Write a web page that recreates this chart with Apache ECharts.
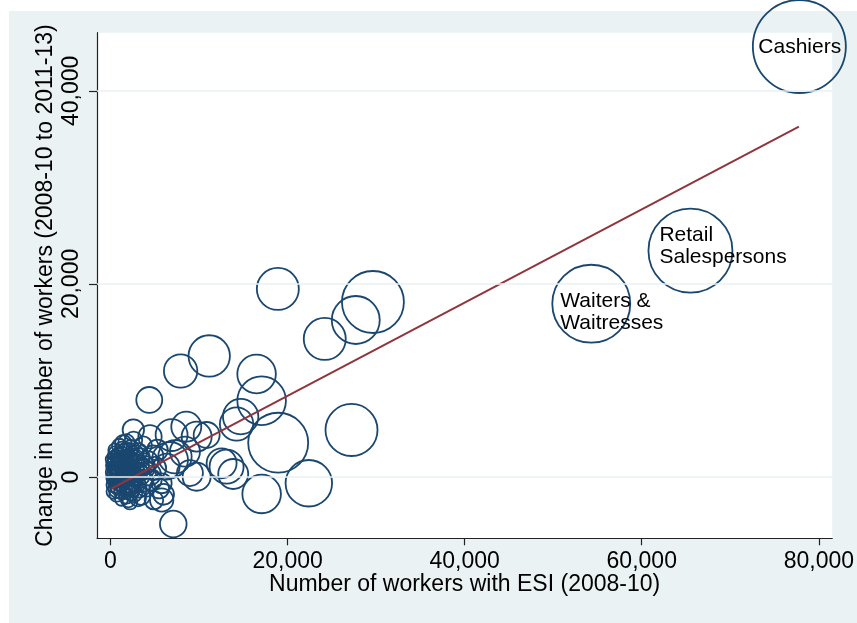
<!DOCTYPE html>
<html>
<head>
<meta charset="utf-8">
<script src="https://cdn.jsdelivr.net/npm/echarts@6/dist/echarts.min.js"></script>
<style>
  html, body { margin: 0; padding: 0; background: #ffffff; }
  #chart { width: 857px; height: 623px; }
</style>
</head>
<body>
<div id="chart"></div>
<script>
// Occupations: workers with ESI in 2008-10 (x), change in workers 2008-10 to 2011-13 (y),
// and bubble weight (thousands of workers).
const namedOcc   = ['Cashiers', 'Retail\nSalespersons', 'Waiters &\nWaitresses'];
const namedX     = [77800, 65500, 54300];
const namedY     = [44600, 23450, 17950];
const namedW     = [100, 81.6, 70.3];

const occX = [
  18900, 29640, 27700, 24200, 11150, 7920, 16500, 4380, 17070, 18940,
  27220, 22400, 17070, 14700, 14240, 13860, 13110, 7090, 8560, 6900,
  9730, 10860, 12550, 9730, 6720, 5780, 2580, 4460, 1445, 2010,
  5780, 6340, 7280, 8410, 8970,
  300, 450, 600, 700, 800, 900, 1000, 1100, 1200, 1300,
  1400, 1500, 1600, 1700, 1800, 1900, 2000, 2100, 2200, 2300,
  2400, 2500, 2600, 2700, 2800, 2900, 3000, 3200, 3300, 3400,
  3600, 3700, 3800, 4000, 4200, 4400, 4600, 5000, 5300, 5500,
  500, 700, 350, 1000, 1250, 1800, 2200, 2600, 3100, 900,
  1500, 2000, 600, 1100, 1700, 2500, 3500, 4800, 6000, 4900,
  250, 400, 550, 650, 750, 850, 950, 1050, 1150, 1350,
  1450, 1650, 1750, 1950, 2050, 2150, 2350, 2450, 2750, 3050,
  200, 380, 520, 820, 980, 1180, 1380, 1580, 1780, 2280,
  320, 480, 720, 880, 1320, 1620, 2120, 2680, 3150, 3900
];
const occY = [
  19480, 18130, 16265, 14300, 12540, 10980, 10670, 7980, 7900, 3550,
  4870, -650, -1760, 6250, 5490, 310, 1070, -4870, 5215, 4350,
  4180, 4350, 1420, 30, 1760, -2380, 4870, 4175, 3490, -2380,
  -650, 1070, 2100, 2620, 410,
  500, -800, 1500, 200, -1200, 2200, 900, -300, 1800, -1500,
  600, 2600, -600, 1200, -2000, 300, 2000, -1000, 900, 3000,
  -200, 1500, -1700, 500, 2500, -700, 1100, -1300, 200, 2000,
  -400, 3300, 800, -1100, 1600, 300, -300, 900, 2800, -1200,
  2800, -1800, 1000, 3200, -2300, 3600, -2600, 3800, -2200, 100,
  -200, 700, -300, 1500, 2800, -1200, -2000, 2200, -1800, -2400,
  0, 1200, -400, 2400, 700, -1100, 1700, 300, -700, 1000,
  2100, -300, 600, -1400, 1600, 2700, 400, -900, 1900, 500,
  1800, -1500, 300, 1300, -600, 2300, -200, 800, 100, -1600,
  -300, 2000, 1100, -900, 2900, 1900, 1300, 100, 2600, 1200
];
const occW = [
  20.4, 44.4, 26.6, 20.4, 19.8, 12.9, 17.2, 7.8, 27.3, 41.6,
  31.3, 25, 17.2, 14.5, 12.9, 10.4, 13.4, 8.2, 10.4, 11.8,
  10.4, 7.8, 10.4, 9.1, 15, 6.3, 5.3, 6.3, 3.2, 2.5,
  4.6, 7.8, 12.9, 10.4, 7.8,
  2.5, 3, 3.5, 2, 4, 3, 5, 2.5, 4, 3,
  6, 3, 4.5, 3, 2.5, 5.5, 3.5, 4, 2.5, 3,
  6, 4, 3.5, 5, 3, 4, 6.5, 3, 5, 4,
  5.5, 3.5, 4.5, 4, 5, 6, 5, 6, 5, 4.5,
  2, 2.5, 2, 2.5, 2, 3, 2.5, 3.5, 3, 3,
  3.5, 4, 2, 3, 2.5, 3, 3.5, 5, 5, 4,
  2, 3, 2.5, 3, 3.5, 2.5, 3, 4, 3, 3.5,
  4, 3, 2.5, 3, 4.5, 3, 4, 3.5, 4, 4.5,
  2, 2.5, 3, 2.5, 3, 3.5, 2.5, 3, 3.5, 3,
  2, 2.5, 3, 3.5, 2.5, 3, 3.5, 4, 3.5, 4
];

// Linear fit drawn between the smallest and largest x
const fitX = [100, 77750];
const fitY = [-1200, 36290];

const xTicks = [0, 20000, 40000, 60000, 80000];
const yTicks = [0, 20000, 40000];

const navy = '#1A476F';
const maroon = '#90353B';
const bg = '#EAF2F3';
const font = '"Liberation Sans", Arial, Helvetica, sans-serif';
const fmt = v => v.toLocaleString('en-US');
const bubble = w => 9.3 * Math.sqrt(w);

// Label placement for the named occupations (pixel offsets from bubble centre)
const labelOffset = {
  'Cashiers': [-41, 1],
  'Retail\nSalespersons': [-31, -4],
  'Waiters &\nWaitresses': [-31, 8]
};

const pts = occX.map((x, i) => [x, occY[i], occW[i]]);
const named = namedOcc.map((n, i) => ({
  name: n,
  value: [namedX[i], namedY[i], namedW[i]],
  label: {
    show: true, position: 'inside', align: 'left', offset: labelOffset[n],
    formatter: n, color: '#000', fontFamily: font, fontSize: 21, lineHeight: 22
  }
}));

const chart = echarts.init(document.getElementById('chart'), null, { renderer: 'canvas' });
chart.setOption({
  backgroundColor: '#ffffff',
  animation: false,
  // light outer panel behind the plot region
  graphic: [{
    type: 'rect', z: -100, silent: true,
    shape: { x: 9, y: 11, width: 848, height: 612 },
    style: { fill: bg }
  }],
  grid: {
    left: 97, top: 32.7, right: 24.3, bottom: 84.7,
    show: true, backgroundColor: '#ffffff', borderWidth: 0
  },
  xAxis: {
    type: 'value', min: -1524, max: 81515,
    name: 'Number of workers with ESI (2008-10)',
    nameLocation: 'middle', nameGap: 35, nameMoveOverlap: false,
    nameTextStyle: { fontFamily: font, fontSize: 23, color: '#000' },
    axisLine: { show: true, onZero: false, lineStyle: { color: '#222', width: 1.2 } },
    axisTick: { show: true, customValues: xTicks, length: 7, lineStyle: { color: '#222', width: 1.2 } },
    axisLabel: { customValues: xTicks, formatter: fmt, margin: 12, fontFamily: font, fontSize: 23, color: '#000' },
    splitLine: { show: false }
  },
  yAxis: {
    type: 'value', min: -6351, max: 46029,
    name: 'Change in number of workers (2008-10 to 2011-13)',
    nameLocation: 'middle', nameGap: 40, nameRotate: 90, nameMoveOverlap: false,
    nameTextStyle: { fontFamily: font, fontSize: 23, color: '#000' },
    axisLine: { show: true, onZero: false, lineStyle: { color: '#222', width: 1.2 } },
    axisTick: { show: true, customValues: yTicks, length: 8, lineStyle: { color: '#222', width: 1.2 } },
    axisLabel: { customValues: yTicks, formatter: fmt, rotate: 90, margin: 14, fontFamily: font, fontSize: 23, color: '#000' },
    splitLine: { show: false }
  },
  series: [
    {
      // horizontal grid lines at the labelled y values
      type: 'line', data: [], silent: true, z: 1,
      markLine: {
        silent: true, symbol: 'none', label: { show: false }, animation: false,
        lineStyle: { color: bg, width: 1.6, type: 'solid' },
        data: yTicks.map(v => ({ yAxis: v }))
      }
    },
    {
      type: 'scatter', z: 2, silent: true,
      data: pts.concat(named),
      symbol: 'circle',
      symbolSize: v => bubble(v[2]),
      itemStyle: { color: 'rgba(0,0,0,0)', borderColor: navy, borderWidth: 1.8, opacity: 1 }
    },
    {
      type: 'line', z: 3, silent: true,
      data: fitX.map((x, i) => [x, fitY[i]]),
      symbol: 'none',
      lineStyle: { color: maroon, width: 2 }
    }
  ]
});
</script>
</body>
</html>
